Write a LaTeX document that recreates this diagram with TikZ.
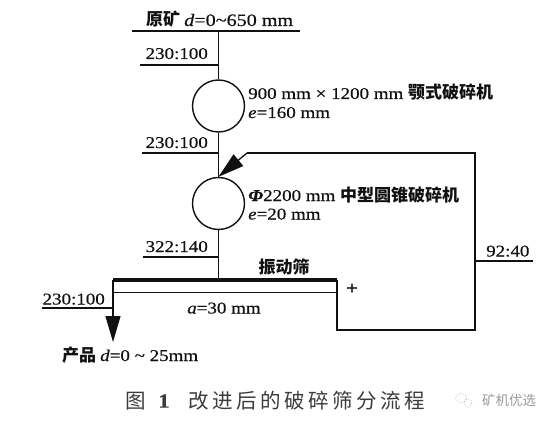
\documentclass[tikz,border=0pt]{standalone}
\usepackage{fontspec}
\setmainfont{Liberation Serif}[FakeStretch=1.15, FakeBold=0.5]
\newfontfamily\cjk{Noto Sans CJK SC}
\usetikzlibrary{arrows.meta,shapes.geometric}
\definecolor{ink}{HTML}{111111}
\definecolor{capc}{HTML}{3C3C3C}
\definecolor{wm}{HTML}{9A9A9A}
\tikzset{
  ln/.style={draw=ink, line width=1.3pt},
  lab/.style={font=\fontsize{16.5}{18}\selectfont, text=ink, inner sep=0pt},
  cnb/.style={font=\cjk\bfseries\fontsize{17}{19}\selectfont, text=ink, inner sep=0pt},
  mill/.style={circle, draw=ink, line width=1.4pt, minimum size=52pt, inner sep=0pt},
  bigtip/.style={-{Triangle[length=26pt,width=15pt]}},
}
\newcommand{\cb}[1]{{\cjk\bfseries\fontsize{17}{19}\selectfont #1}}
\begin{document}
\begin{tikzpicture}[x=1pt,y=-1pt]
\useasboundingbox (0,0) rectangle (554,422);
\fill[white] (0,0) rectangle (554,422);

% feed line and title
\coordinate (f0) at (132,31);
\coordinate (f1) at (300,31);
\coordinate (fj) at (218.5,31);
\draw[ln] (f0) -- (f1);
\node[lab, anchor=base west] (title) at (146,26) {\cb{原矿}\hspace{4pt}\fontsize{17.5}{19}\selectfont\textit{d}=0\textasciitilde650 mm};

% crushers
\node[mill] (c1) at (218.5,106) {};
\node[mill] (c2) at (218.5,203.5) {};
\draw[ln] (fj) -- (c1.north);
\draw[ln] (c1.south) -- (c2.north);

% label lines
\coordinate (l1a) at (140,65);  \coordinate (l1b) at (218.5,65);
\coordinate (l2a) at (142,153); \coordinate (l2b) at (218.5,153);
\coordinate (l3a) at (143,257); \coordinate (l3b) at (218.5,257);
\draw[ln] (l1a) -- (l1b);
\draw[ln] (l2a) -- (l2b);
\draw[ln] (l3a) -- (l3b);
\node[lab, anchor=base east] (r1) at (208,59) {230:100};
\node[lab, anchor=base east] (r2) at (208,148) {230:100};
\node[lab, anchor=base east] (r3) at (208,252) {322:140};

% crusher annotations
\node[lab, anchor=base west] (a1) at (248,99) {900 mm × 1200 mm \cb{颚式破碎机}};
\node[lab, anchor=base west] (a2) at (248,118) {\textit{e}=160 mm};
\node[lab, anchor=base west] (a3) at (248,201) {{\bfseries\itshape Φ}2200 mm \cb{中型圆锥破碎机}};
\node[lab, anchor=base west] (a4) at (248,219.5) {\textit{e}=20 mm};

% screen
\coordinate (sj) at (218.5,280);
\coordinate (sL) at (113,280);
\coordinate (sR) at (337,280);
\coordinate (sLi) at (113,292.5);
\coordinate (sRi) at (337,292.5);
\coordinate (sRb) at (337,330);
\coordinate (rB) at (475,330);
\coordinate (rT) at (475,153);
\coordinate (fb) at (247,153);
\coordinate (pt) at (113,342);
\draw[ln] (c2.south) -- (sj);
\draw[draw=ink, line width=3.2pt] (sL) -- (sR);
\draw[ln] (sLi) -- (sRi);
\draw[ln] (sR) -- (sRb) -- (rB) -- (rT) -- (fb);
\draw[ln, bigtip] (fb) -- (c2.north);
\draw[ln, bigtip] (sL) -- (pt);
\node[cnb] (scr) at (284,267) {振动筛};
\node[lab, font=\fontsize{18}{20}\selectfont\bfseries] (plus) at (352,289) {+};
\node[lab, anchor=base] (mesh) at (224,313.5) {\textit{a}=30 mm};

% product and side labels
\coordinate (l4a) at (42,308); \coordinate (l4b) at (113,308);
\draw[ln] (l4a) -- (l4b);
\node[lab, anchor=base east] (r4) at (105,304.5) {230:100};
\coordinate (l5a) at (475,261); \coordinate (l5b) at (533,261);
\draw[ln] (l5a) -- (l5b);
\node[lab, anchor=base west] (r5) at (486,256.5) {92:40};
\node[lab, anchor=base west] (prod) at (62,361) {\cb{产品}\hspace{4pt}\textit{d}=0 \textasciitilde\ 25mm};

% caption
\node[inner sep=0pt, text=capc, font=\cjk\fontsize{20.5}{22}\selectfont] (capA) at (136,401) {图};
\node[inner sep=0pt, text=capc, font=\fontsize{20}{22}\selectfont\bfseries] (capB) at (164,401) {1};
\node[inner sep=0pt, text=capc, anchor=west, font=\cjk\fontsize{20.5}{22}\selectfont] (capC) at (188,401)
  {改\kern3.5pt 进\kern3.5pt 后\kern3.5pt 的\kern3.5pt 破\kern3.5pt 碎\kern3.5pt 筛\kern3.5pt 分\kern3.5pt 流\kern3.5pt 程};

% watermark
\node[draw=wm, dotted, ellipse, minimum width=11pt, minimum height=9pt, inner sep=0pt, line width=0.6pt] (wi1) at (461,398) {};
\node[draw=wm, dotted, circle, minimum size=8pt, inner sep=0pt, line width=0.6pt] (wi2) at (468,403) {};
\node[inner sep=0pt, text=wm, anchor=west, font=\cjk\fontsize{13.5}{14}\selectfont] (wmt) at (482,400) {矿机优选};
\end{tikzpicture}
\end{document}
